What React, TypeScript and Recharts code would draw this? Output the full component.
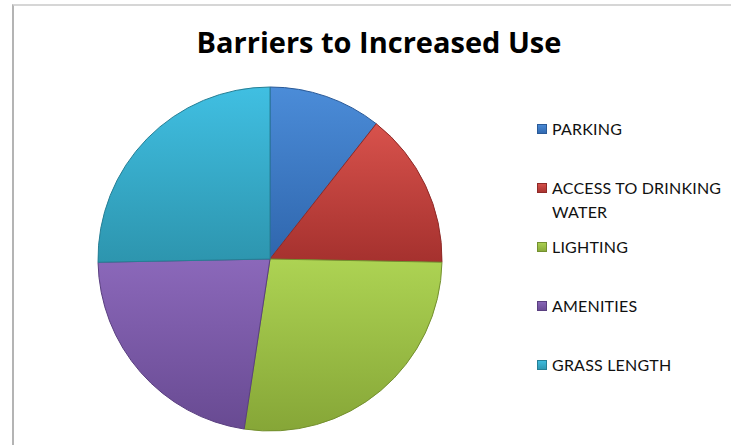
import { Cell, Legend, Pie, PieChart } from "recharts";

const categories = [
  "PARKING",
  "ACCESS TO DRINKING WATER",
  "LIGHTING",
  "AMENITIES",
  "GRASS LENGTH",
];
const shares = [10.6, 14.7, 27.1, 22.3, 25.3];

const COLORS = [
  { light: "#4b8cd8", dark: "#2f66ad", edge: "#2a5a98" },
  { light: "#d8524c", dark: "#a5312e", edge: "#8f2a28" },
  { light: "#add353", dark: "#86a637", edge: "#74902f" },
  { light: "#8b68ba", dark: "#684a92", edge: "#5a3f80" },
  { light: "#40bfe2", dark: "#2d95ae", edge: "#267f95" },
];

const data = categories.map((name, i) => ({ name, value: shares[i] }));

function LegendList() {
  return (
    <div style={{ fontFamily: "Lato, sans-serif", fontSize: 16, color: "#111" }}>
      {categories.map((name, i) => (
        <div key={name} style={{ display: "flex", height: 59, alignItems: "flex-start" }}>
          <span
            style={{
              width: 10,
              height: 10,
              marginTop: 7,
              marginRight: 5,
              flex: "none",
              background: `linear-gradient(${COLORS[i].light}, ${COLORS[i].dark})`,
              boxShadow: `inset 0 0 0 1px ${COLORS[i].edge}`,
            }}
          />
          <span style={{ width: 175, lineHeight: "24px", letterSpacing: 0.2 }}>{name}</span>
        </div>
      ))}
    </div>
  );
}

export default function App() {
  return (
    <div
      style={{
        position: "absolute",
        left: 0,
        top: 0,
        width: 731,
        height: 445,
        overflow: "hidden",
        background: "#fff",
      }}
    >
      <div
        style={{
          position: "absolute",
          left: 12,
          top: 4,
          width: 740,
          height: 460,
          borderTop: "2px solid #d6d6d6",
          borderLeft: "2px solid #b4b4b4",
        }}
      />
      <div
        style={{
          position: "absolute",
          left: 0,
          top: 22,
          width: 758,
          textAlign: "center",
          fontFamily: "'Open Sans', sans-serif",
          fontWeight: 700,
          fontSize: 29,
          lineHeight: "40px",
          color: "#000",
        }}
      >
        Barriers to Increased Use
      </div>
      <PieChart
        width={731}
        height={445}
        margin={{ top: 0, right: 0, bottom: 0, left: 0 }}
        style={{ position: "absolute", left: 0, top: 0 }}
      >
        <defs>
          {COLORS.map((c, i) => (
            <linearGradient key={i} id={`slice${i}`} x1="0" y1="0" x2="0" y2="1">
              <stop offset="0%" stopColor={c.light} />
              <stop offset="100%" stopColor={c.dark} />
            </linearGradient>
          ))}
        </defs>
        <Pie
          data={data}
          dataKey="value"
          nameKey="name"
          cx={270}
          cy={259}
          outerRadius={172}
          startAngle={90}
          endAngle={-270}
          isAnimationActive={false}
        >
          {data.map((d, i) => (
            <Cell key={d.name} fill={`url(#slice${i})`} stroke={COLORS[i].edge} strokeWidth={1} />
          ))}
        </Pie>
        <Legend
          content={<LegendList />}
          wrapperStyle={{ position: "absolute", left: 537, top: 117, width: 194 }}
        />
      </PieChart>
    </div>
  );
}
